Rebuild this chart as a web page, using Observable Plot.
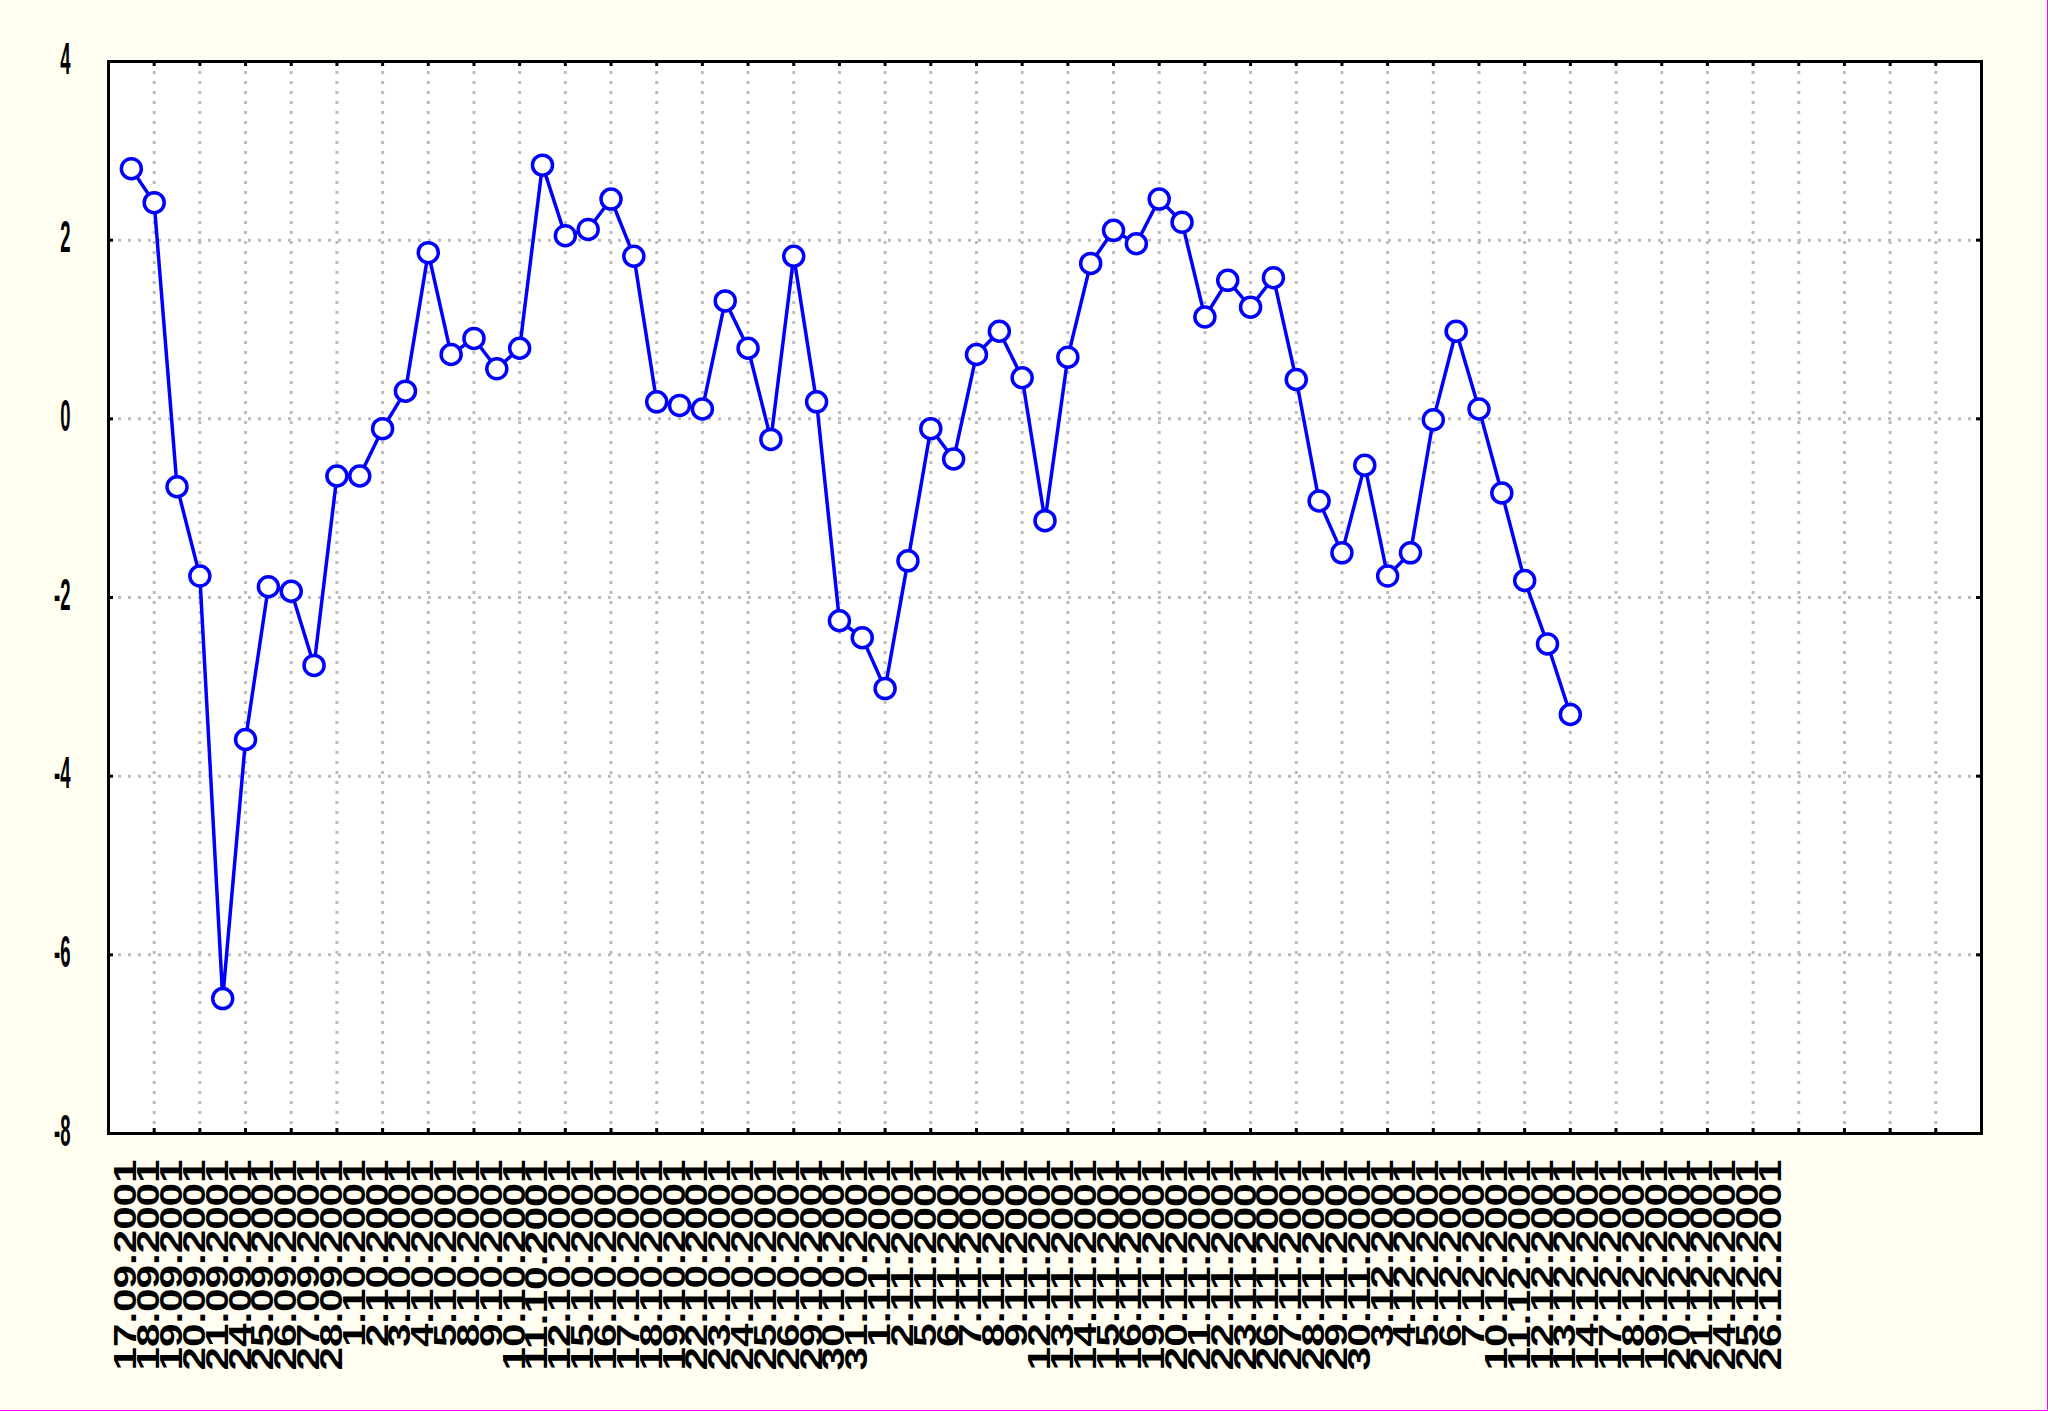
<!DOCTYPE html>
<html>
<head>
<meta charset="utf-8">
<script src="https://cdn.jsdelivr.net/npm/d3@7"></script>
<script src="https://cdn.jsdelivr.net/npm/@observablehq/plot@0.6"></script>
<style>
  html, body { margin: 0; padding: 0; background: #fffef0; }
  #wrap { position: relative; width: 2048px; height: 1411px; overflow: hidden; background: #fffef0; }
  #wrap::after { content: ""; position: absolute; left: 0; top: 0; right: 0; bottom: 0; box-sizing: border-box;
    border-right: 1px solid #ff00ff; border-bottom: 1px solid #ff00ff; pointer-events: none; }
  svg { display: block; }
</style>
</head>
<body>
<div id="wrap"></div>
<script>
// Category labels (business days) shown on the x axis
const dateLabels = [
  "17.09.2001","18.09.2001","19.09.2001","20.09.2001","21.09.2001","24.09.2001","25.09.2001","26.09.2001","27.09.2001","28.09.2001",
  "1.10.2001","2.10.2001","3.10.2001","4.10.2001","5.10.2001","8.10.2001","9.10.2001","10.10.2001","11.10.2001","12.10.2001",
  "15.10.2001","16.10.2001","17.10.2001","18.10.2001","19.10.2001","22.10.2001","23.10.2001","24.10.2001","25.10.2001","26.10.2001",
  "29.10.2001","30.10.2001","31.10.2001",
  "1.11.2001","2.11.2001","5.11.2001","6.11.2001","7.11.2001","8.11.2001","9.11.2001","12.11.2001","13.11.2001","14.11.2001",
  "15.11.2001","16.11.2001","19.11.2001","20.11.2001","21.11.2001","22.11.2001","23.11.2001","26.11.2001","27.11.2001","28.11.2001",
  "29.11.2001","30.11.2001",
  "3.12.2001","4.12.2001","5.12.2001","6.12.2001","7.12.2001","10.12.2001","11.12.2001","12.12.2001","13.12.2001","14.12.2001",
  "17.12.2001","18.12.2001","19.12.2001","20.12.2001","21.12.2001","24.12.2001","25.12.2001","26.12.2001"
];
// Series values (one per day, first 64 days)
const values = [
  2.80, 2.42, -0.76, -1.76, -6.49, -3.59, -1.88, -1.93, -2.76, -0.64,
  -0.64, -0.11, 0.31, 1.86, 0.72, 0.90, 0.56, 0.79, 2.84, 2.05,
  2.12, 2.46, 1.82, 0.19, 0.15, 0.11, 1.32, 0.79, -0.23, 1.82,
  0.19, -2.26, -2.45, -3.02, -1.59, -0.11, -0.45, 0.72, 0.98, 0.46,
  -1.14, 0.69, 1.74, 2.11, 1.96, 2.46, 2.20, 1.14, 1.55, 1.25,
  1.58, 0.44, -0.92, -1.50, -0.52, -1.76, -1.50, -0.01, 0.98, 0.11,
  -0.83, -1.81, -2.52, -3.31
];
// Y axis ticks and labels
const yTicks = [-8, -6, -4, -2, 0, 2, 4];
const yTickLabels = ["-8", "-6", "-4", "-2", "0", "2", "4"];
const yGrid = [-6, -4, -2, 0, 2];
// X axis tick / grid positions (every second slot)
const xTicks = [2,4,6,8,10,12,14,16,18,20,22,24,26,28,30,32,34,36,38,40,42,44,46,48,50,52,54,56,58,60,62,64,66,68,70,72,74,76,78,80];
const xDomain = [0, 82];

const font = "'Liberation Sans', Arial, sans-serif";
const blue = "#0000ff";
const gridStyle = {stroke: "#bcbcbc", strokeWidth: 3, strokeDasharray: "3 7", strokeOpacity: 1};

const chart = Plot.plot({
  width: 2048,
  height: 1411,
  marginLeft: 108,
  marginRight: 67,
  marginTop: 61,
  marginBottom: 278,
  x: {domain: xDomain, axis: null},
  y: {domain: [-8, 4], axis: null},
  style: {background: "transparent", overflow: "visible", fontFamily: font},
  marks: [
    Plot.frame({fill: "white", stroke: null}),
    Plot.ruleX(xTicks, {x: d => d, ...gridStyle}),
    Plot.ruleY(yGrid, {y: d => d, ...gridStyle}),
    Plot.ruleX(xTicks, {x: d => d, stroke: "black", strokeWidth: 3, insetBottom: 1067}),
    Plot.ruleX(xTicks, {x: d => d, stroke: "black", strokeWidth: 3, insetTop: 1067}),
    Plot.ruleY(yGrid, {y: d => d, stroke: "black", strokeWidth: 3, insetRight: 1868}),
    Plot.ruleY(yGrid, {y: d => d, stroke: "black", strokeWidth: 3, insetLeft: 1868}),
    Plot.frame({stroke: "black", strokeWidth: 3, fill: null}),
    Plot.line(values, {x: (d, i) => i + 1, y: d => d, stroke: blue, strokeWidth: 3.5, strokeLinejoin: "round"}),
    Plot.dot(values, {x: (d, i) => i + 1, y: d => d, r: 10, fill: "white", stroke: blue, strokeWidth: 3.5}),
    Plot.text(yTicks, {y: d => d, text: (d, i) => yTickLabels[i], frameAnchor: "left", dx: -38, dy: -2,
      textAnchor: "end", fontSize: 44, fontWeight: "bold", fontFamily: font, fill: "black"}),
    Plot.text(dateLabels, {x: (d, i) => i + 1, text: d => d, frameAnchor: "bottom", dy: 26, dx: 5,
      rotate: -90, textAnchor: "end", fontSize: 32, fontWeight: "bold", fontFamily: font, fill: "black"})
  ]
});

document.getElementById("wrap").appendChild(chart);

// The two text marks, in mark order: y labels first, x labels second
const textGroups = chart.querySelectorAll('g[aria-label="text"]');
if (textGroups.length >= 2) {
  // Condense y label glyphs horizontally around their anchor
  textGroups[0].querySelectorAll("text").forEach(el => {
    const t = el.getAttribute("transform") || "";
    el.setAttribute("transform", t + " scale(0.42,1)");
  });
  // Stretch x label glyphs along the text direction
  textGroups[1].querySelectorAll("text").forEach(el => {
    const s = el.textContent;
    let w = 0;
    for (let k = 0; k < s.length; k++) w += (s[k] === "." ? 0.278 : 0.556);
    el.setAttribute("textLength", String(Math.round(w * 32 * 1.318 * 10) / 10));
    el.setAttribute("lengthAdjust", "spacingAndGlyphs");
  });
}
</script>
</body>
</html>
